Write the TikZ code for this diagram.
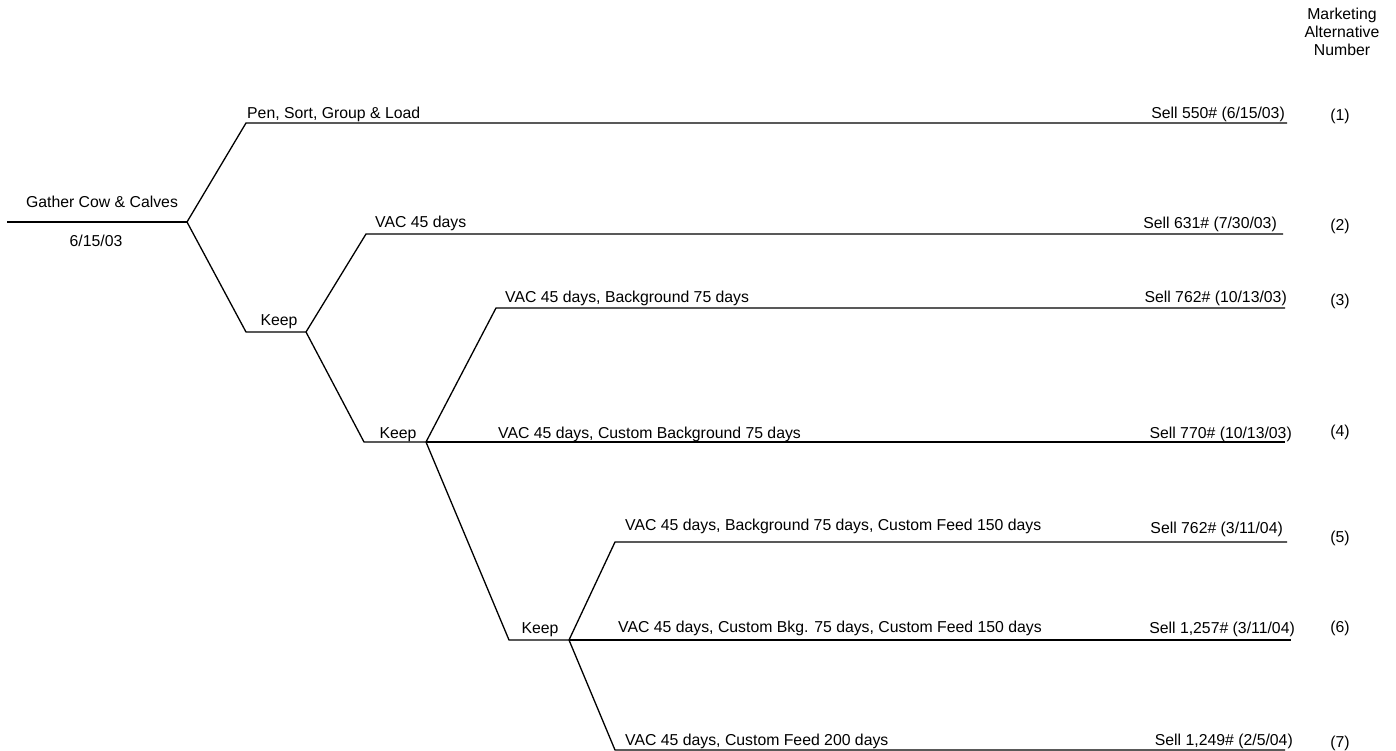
\documentclass[tikz,border=0pt]{standalone}
\usepackage{fontspec}
\setmainfont{Liberation Sans}
\usetikzlibrary{calc}
\tikzset{
 branch/.style={black, line width=1.3pt},
 lbl/.style={font=\fontsize{15.8}{18}\selectfont, inner sep=0pt},
}
\begin{document}
\begin{tikzpicture}[x=1pt,y=-1pt]
\useasboundingbox (0,0) rectangle (1396,751);
% decision points
\coordinate (S) at (7,222);
\coordinate (G) at (187,222);
\coordinate (a1) at (246,123);
\coordinate (e1) at (1287,123);
\coordinate (k1s) at (246,332);
\coordinate (K1) at (306,332);
\coordinate (a2) at (366,234);
\coordinate (e2) at (1283,234);
\coordinate (k2s) at (364,442);
\coordinate (K2) at (426,442);
\coordinate (a3) at (496,308);
\coordinate (e3) at (1285,308);
\coordinate (e4) at (1285,442);
\coordinate (k3s) at (509,640);
\coordinate (K3) at (569,640);
\coordinate (a5) at (615,542);
\coordinate (e5) at (1287,542);
\coordinate (e6) at (1291,640);
\coordinate (a7) at (615,750);
\coordinate (e7) at (1285,750);
% tree
\draw[branch] (S) -- (G);
\draw[branch] (G) -- (a1) -- (e1);
\draw[branch] (G) -- (k1s) -- (K1);
\draw[branch] (K1) -- (a2) -- (e2);
\draw[branch] (K1) -- (k2s) -- (K2);
\draw[branch] (K2) -- (a3) -- (e3);
\draw[branch] (K2) -- (e4);
\draw[branch] (K2) -- (k3s) -- (K3);
\draw[branch] (K3) -- (a5) -- (e5);
\draw[branch] (K3) -- (e6);
\draw[branch] (K3) -- (a7) -- (e7);
% start
\node[lbl, anchor=base] (gather) at (102,207.5) {Gather Cow \& Calves};
\node[lbl, anchor=base] (start) at (96,246.5) {6/15/03};
\node[lbl, anchor=base] (keep1) at (279,325.5) {Keep};
\node[lbl, anchor=base] (keep2) at (398,438.5) {Keep};
\node[lbl, anchor=base] (keep3) at (540,633.5) {Keep};
% alternatives
\node[lbl, anchor=base west] (alt1) at (247,118.5) {Pen, Sort, Group \& Load};
\node[lbl, anchor=base west] (alt2) at (375,227.5) {VAC 45 days};
\node[lbl, anchor=base west] (alt3) at (505,302.5) {VAC 45 days, Background 75 days};
\node[lbl, anchor=base west] (alt4) at (498,438.5) {VAC 45 days, Custom Background 75 days};
\node[lbl, anchor=base west] (alt5) at (625,530.5) {VAC 45 days, Background 75 days, Custom Feed 150 days};
\node[lbl, anchor=base west] (alt6) at (618,632.5) {VAC 45 days, Custom Bkg. 75 days, Custom Feed 150 days};
\node[lbl, anchor=base west] (alt7) at (625,745.5) {VAC 45 days, Custom Feed 200 days};
% sales
\node[lbl, anchor=base east] (sell1) at (1285,118.5) {Sell 550\# (6/15/03)};
\node[lbl, anchor=base east] (sell2) at (1277,228.5) {Sell 631\# (7/30/03)};
\node[lbl, anchor=base east] (sell3) at (1287,302.5) {Sell 762\# (10/13/03)};
\node[lbl, anchor=base east] (sell4) at (1292,438.5) {Sell 770\# (10/13/03)};
\node[lbl, anchor=base east] (sell5) at (1283,533.5) {Sell 762\# (3/11/04)};
\node[lbl, anchor=base east] (sell6) at (1295,633.5) {Sell 1,257\# (3/11/04)};
\node[lbl, anchor=base east] (sell7) at (1293,745.5) {Sell 1,249\# (2/5/04)};
% numbers
\node[lbl, anchor=north, align=center] (head) at (1342,8) {Marketing\\Alternative\\Number};
\foreach \n/\y in {1/120.5, 2/230.5, 3/305.5, 4/436.5, 5/542.5, 6/632.5, 7/747.5}
 \node[lbl, anchor=base] (num\n) at (1340,\y) {(\n)};
\end{tikzpicture}
\end{document}
